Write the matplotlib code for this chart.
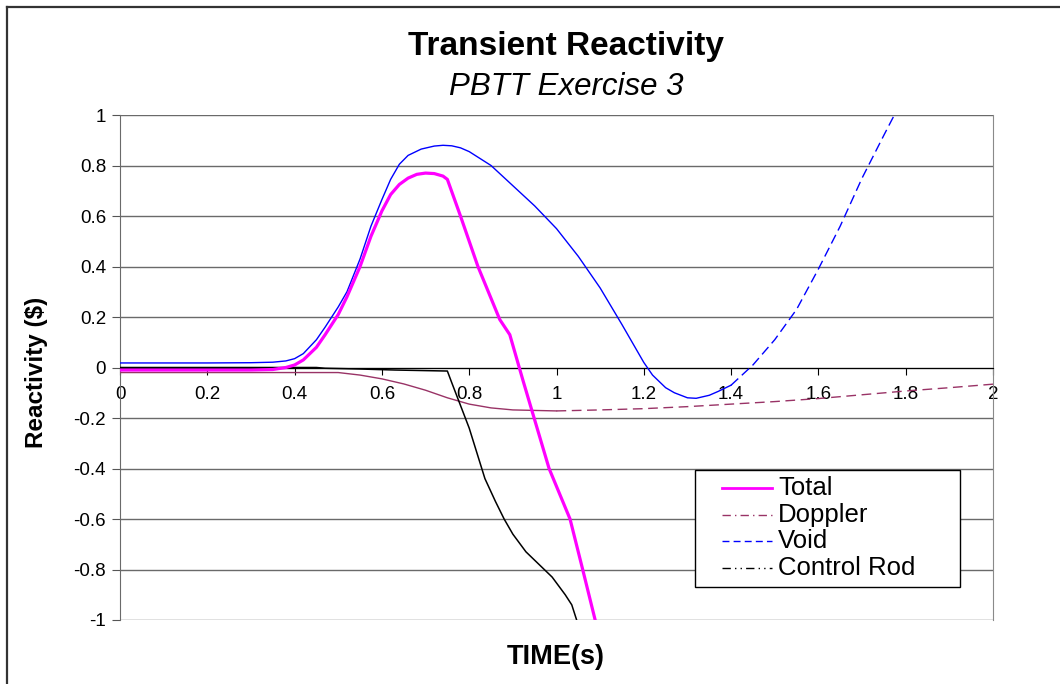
import numpy as np
import matplotlib.pyplot as plt
from matplotlib.lines import Line2D
from matplotlib.patches import Rectangle

plt.rcParams['font.family'] = ['Liberation Sans', 'DejaVu Sans']

# values
void_t = [0.0, 0.1, 0.2, 0.3, 0.35, 0.38, 0.4, 0.42, 0.45, 0.47, 0.5, 0.52, 0.55, 0.575, 0.6,
          0.62, 0.64, 0.66, 0.69, 0.72, 0.74, 0.76, 0.78, 0.8, 0.85, 0.9, 0.95, 1.0, 1.05, 1.1,
          1.15, 1.2, 1.22, 1.25, 1.27, 1.3, 1.32, 1.35, 1.37, 1.4]
void_v = [0.018, 0.018, 0.018, 0.019, 0.021, 0.026, 0.035, 0.055, 0.11, 0.16, 0.24, 0.30, 0.43, 0.56, 0.665,
          0.745, 0.805, 0.84, 0.865, 0.877, 0.88, 0.878, 0.87, 0.855, 0.80, 0.72, 0.64, 0.55, 0.44, 0.315,
          0.17, 0.02, -0.03, -0.08, -0.10, -0.12, -0.122, -0.11, -0.095, -0.07]
void_late_t = [1.4, 1.45, 1.5, 1.55, 1.6, 1.65, 1.7, 1.75, 1.78]
void_late_v = [-0.07, 0.01, 0.11, 0.23, 0.39, 0.56, 0.75, 0.92, 1.02]

total_t = [0.0, 0.3, 0.35, 0.38, 0.4, 0.42, 0.45, 0.47, 0.5, 0.52, 0.55, 0.575, 0.6, 0.62, 0.64,
           0.66, 0.68, 0.7, 0.72, 0.74, 0.75, 0.78, 0.82, 0.87, 0.893, 0.923, 0.983, 1.031, 1.06, 1.09]
total_v = [-0.01, -0.01, -0.008, 0.0, 0.01, 0.03, 0.08, 0.13, 0.21, 0.28, 0.40, 0.52, 0.62, 0.685, 0.725,
           0.75, 0.765, 0.77, 0.768, 0.758, 0.745, 0.60, 0.40, 0.19, 0.13, -0.05, -0.40, -0.60, -0.80, -1.01]

rod_t = [0.0, 0.45, 0.47, 0.55, 0.63, 0.75, 0.76, 0.80, 0.836, 0.86, 0.88, 0.9, 0.93, 0.96,
         0.99, 1.02, 1.035, 1.048]
rod_v = [0.0, 0.0, -0.003, -0.006, -0.01, -0.014, -0.06, -0.24, -0.44, -0.53, -0.60, -0.66, -0.73, -0.78,
         -0.83, -0.90, -0.94, -1.01]

doppler_t = [0.0, 0.5, 0.55, 0.6, 0.65, 0.7, 0.75, 0.8, 0.85, 0.9, 1.0]
doppler_v = [-0.02, -0.02, -0.03, -0.045, -0.065, -0.09, -0.12, -0.145, -0.16, -0.168, -0.172]
doppler_late_t = [1.0, 1.1, 1.2, 1.3, 1.4, 1.5, 1.6, 1.7, 1.8, 1.9, 2.0]
doppler_late_v = [-0.172, -0.168, -0.163, -0.155, -0.145, -0.135, -0.123, -0.108, -0.093, -0.08, -0.066]

labels = ['Total', 'Doppler', 'Void', 'Control Rod']

W, H = 1060, 684
fig = plt.figure(figsize=(W / 100, H / 100), dpi=100)
ax = fig.add_axes([120 / W, 1 - 620 / H, 873 / W, 505 / H])

# outer chart border (cut off at right and bottom like the reference)
fig.add_artist(Line2D([7 / W, 1], [1 - 7 / H, 1 - 7 / H], color='#333333', lw=1.6))
fig.add_artist(Line2D([7 / W, 7 / W], [0, 1 - 7 / H], color='#333333', lw=1.6))

ax.set_xlim(0, 2)
ax.set_ylim(-1, 1)
ax.set_yticks(np.arange(-1, 1.01, 0.2))
ax.set_yticklabels(['-1', '-0.8', '-0.6', '-0.4', '-0.2', '0', '0.2', '0.4', '0.6', '0.8', '1'])
ax.set_xticks(np.arange(0, 2.01, 0.2))
ax.set_xticklabels(['0', '0.2', '0.4', '0.6', '0.8', '1', '1.2', '1.4', '1.6', '1.8', '2'])

for y in np.arange(-1, 1.01, 0.2):
    ax.axhline(y, color='#6a6a6a', lw=1.0, zorder=0)

ax.spines['top'].set_visible(False)
ax.spines['bottom'].set_position(('data', 0))
ax.spines['bottom'].set_color('black')
ax.spines['left'].set_color('#6a6a6a')
ax.spines['right'].set_color('#8a8a8a')
ax.tick_params(axis='x', direction='out', length=5, color='black', labelsize=13.5, pad=8)
ax.tick_params(axis='y', direction='out', length=6, color='#555555', labelsize=13.5, pad=4)

ax.plot(doppler_t, doppler_v, color='#993366', lw=1.0, zorder=3)
ax.plot(doppler_late_t, doppler_late_v, color='#993366', lw=1.0, ls=(0, (7, 4)), zorder=3)
ax.plot(rod_t, rod_v, color='black', lw=1.1, zorder=3)
ax.plot(void_t, void_v, color='#0000FF', lw=1.0, zorder=4)
ax.plot(void_late_t, void_late_v, color='#0000FF', lw=1.0, ls=(0, (7, 3.5)), zorder=4)
ax.plot(total_t, total_v, color='#FF00FF', lw=2.3, zorder=5)

# legend box drawn by hand to match the reference spacing
fig.add_artist(Rectangle((695 / W, 1 - 587 / H), 265 / W, 117 / H, transform=fig.transFigure,
                         facecolor='white', edgecolor='black', lw=1.0, zorder=10))
styles = [dict(color='#FF00FF', lw=2.0),
          dict(color='#993366', lw=1.0, ls=(0, (6, 3, 1, 3))),
          dict(color='#0000FF', lw=1.0, ls=(0, (5, 3))),
          dict(color='black', lw=1.0, ls=(0, (6, 3, 1, 3, 1, 3)))]
for i, (lab, st) in enumerate(zip(labels, styles)):
    yy = 1 - (488 + 26.7 * i) / H
    fig.add_artist(Line2D([722 / W, 772 / W], [yy, yy], zorder=11, **st))
    fig.text(778 / W, yy, lab, ha='left', va='center', fontsize=18.5, zorder=11)

fig.text(566 / W, 1 - 47 / H, 'Transient Reactivity', ha='center', va='center',
         fontsize=24, fontweight='bold')
fig.text(566 / W, 1 - 87 / H, 'PBTT Exercise 3', ha='center', va='center',
         fontsize=22.5, style='italic')
fig.text(37 / W, 1 - 372 / H, 'Reactivity ($)', ha='center', va='center',
         fontsize=17.5, fontweight='bold', rotation=90)
fig.text(556 / W, 1 - 657 / H, 'TIME(s)', ha='center', va='center',
         fontsize=19.5, fontweight='bold')

fig.savefig('out.png', dpi=100, facecolor='white')
